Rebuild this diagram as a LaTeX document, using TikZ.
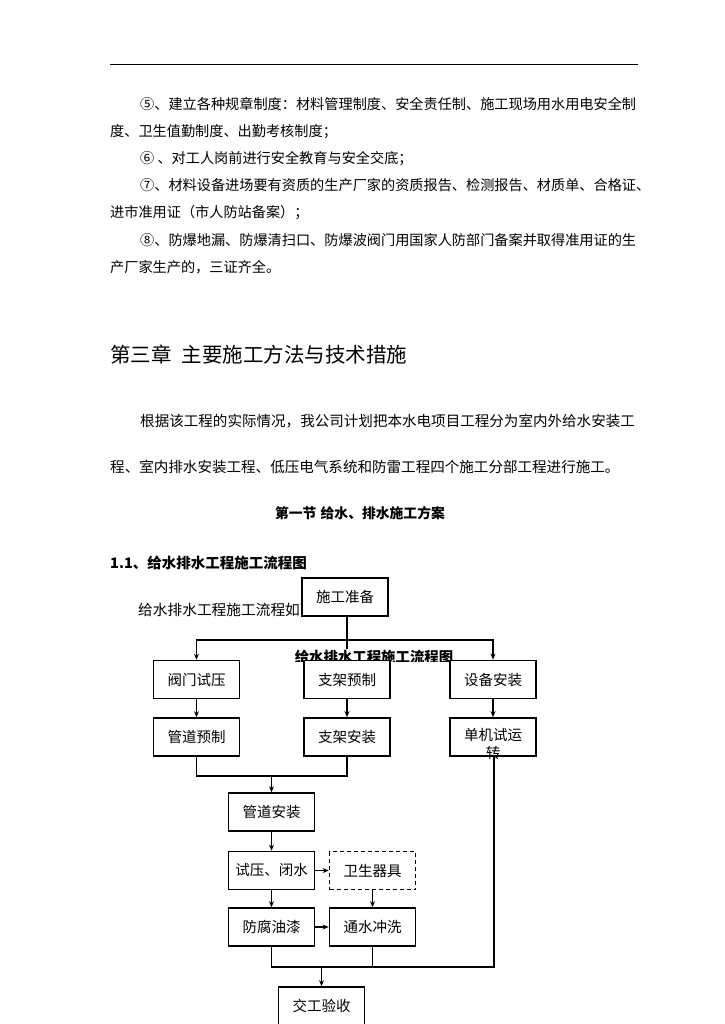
\documentclass[tikz,border=0pt]{standalone}
\usepackage{fontspec}
\setmainfont{Noto Sans CJK SC}
\usetikzlibrary{arrows.meta,calc}
\pgfdeclarelayer{back}
\pgfdeclarelayer{bg}
\pgfdeclarelayer{mid}
\pgfsetlayers{back,bg,mid,main}
\begin{document}
\begin{tikzpicture}[x=1pt,y=-1pt,
  box/.style={draw,line width=1.6pt,fill=white,minimum width=86pt,minimum height=38pt,inner sep=0pt,font=\fontsize{14.5}{17}\selectfont},
  dbox/.style={box,dash pattern=on 4pt off 3pt},
  arr/.style={line width=1.2pt,-{Stealth[open,length=6pt,width=5pt]}},
  ln/.style={line width=1.2pt},
  body/.style={anchor=west,inner sep=0pt,font=\fontsize{14.17}{17}\selectfont},
  para/.style={anchor=west,inner sep=0pt,font=\fontsize{14.55}{18}\selectfont}]
\useasboundingbox (0,0) rectangle (724,1024);
\begin{pgfonlayer}{back}
\fill[white] (0,0) rectangle (724,1024);
\end{pgfonlayer}
% header rule
\draw[line width=0.8pt] (110,64) -- (638,64);
% body text
\node[body] (l1) at (140,104) {⑤、建立各种规章制度：材料管理制度、安全责任制、施工现场用水用电安全制};
\node[body] (l2) at (110,131.2) {度、卫生值勤制度、出勤考核制度；};
\node[body] (l3) at (140,158.4) {⑥ 、对工人岗前进行安全教育与安全交底；};
\node[body] (l4) at (140,185.6) {⑦、材料设备进场要有资质的生产厂家的资质报告、检测报告、材质单、合格证、};
\node[body] (l5) at (110,212.8) {进市准用证（市人防站备案）；};
\node[body] (l6) at (140,240) {⑧、防爆地漏、防爆清扫口、防爆波阀门用国家人防部门备案并取得准用证的生};
\node[body] (l7) at (110,267.2) {产厂家生产的，三证齐全。};
% chapter heading
\node[anchor=west,inner sep=0pt,font=\fontsize{20.5}{24}\selectfont] (h1) at (110,355) {第三章\hspace{0.5em}主要施工方法与技术措施};
\node[para] (p1) at (140,421) {根据该工程的实际情况，我公司计划把本水电项目工程分为室内外给水安装工};
\node[para] (p2) at (110,467) {程、室内排水安装工程、低压电气系统和防雷工程四个施工分部工程进行施工。};
\node[inner sep=0pt,font=\bfseries\fontsize{13.8}{16}\selectfont] (sec) at (360,513) {第一节\hspace{0.3em}给水、排水施工方案};
\node[anchor=west,inner sep=0pt,font=\bfseries\fontsize{14.5}{17}\selectfont] (sub) at (110,563) {1.1、给水排水工程施工流程图};
% flowchart boxes
\node[box] (prep) at (345,597) {施工准备};
\node[box] (fm) at (196.5,679.5) {阀门试压};
\node[box] (zj) at (347,679.5) {支架预制};
\node[box] (sb) at (493,679.5) {设备安装};
\node[box] (gdyz) at (196.5,737) {管道预制};
\node[box] (zjaz) at (347,737) {支架安装};
\node[box] (djsy) at (493,737) {};
\node[inner sep=0pt,align=center,font=\fontsize{14.5}{18}\selectfont] (djsyt) at (493,744) {单机试运\\转};
\node[box] (gdaz) at (271.5,812) {管道安装};
\node[box] (sy) at (271.5,870.5) {试压、闭水};
\node[dbox] (ws) at (372.5,870.5) {卫生器具};
\node[box] (ff) at (271.5,927) {防腐油漆};
\node[box] (ts) at (372.5,927) {通水冲洗};
\node[box] (jg) at (321.5,1006) {交工验收};
% coordinates
\coordinate (split) at (347,640);
\coordinate (m1) at (271.5,776);
\coordinate (m2) at (321.5,967);
\coordinate (m3) at (494,967);
% background: intro text and connectors
\begin{pgfonlayer}{bg}
\node[anchor=west,inner sep=0pt,font=\fontsize{14.7}{17}\selectfont] (intro) at (138,610) {给水排水工程施工流程如下图：};
\draw[arr] (prep.south -| zj.north) -- (zj.north);
\draw[arr] (split) -| (fm.north);
\draw[arr] (split) -| (sb.north);
\draw[arr] (fm) -- (gdyz);
\draw[arr] (zj) -- (zjaz);
\draw[arr] (sb) -- (djsy);
\draw[ln] (gdyz.south) |- (m1) -| (zjaz.south);
\draw[arr] (m1) -- (gdaz.north);
\draw[arr] (gdaz) -- (sy);
\draw[arr] (sy) -- (ff);
\draw[arr] (sy) -- (ws);
\draw[arr] (ws) -- (ts);
\draw[arr] (ff) -- (ts);
\draw[ln] (ff.south) |- (m3) -- (m3 |- djsy.south);
\draw[ln] (ts.south) -- (ts.south |- m3);
\draw[arr] (m2) -- (jg.north);
\end{pgfonlayer}
% flowchart title (clipped by the boxes below)
\begin{pgfonlayer}{mid}
\begin{scope}
\clip (280,640) rectangle (470,661);
\node[inner sep=1pt,fill=white,font=\bfseries\fontsize{14.4}{17}\selectfont] (title) at (374,657) {给水排水工程施工流程图};
\end{scope}
\end{pgfonlayer}
\end{tikzpicture}
\end{document}
